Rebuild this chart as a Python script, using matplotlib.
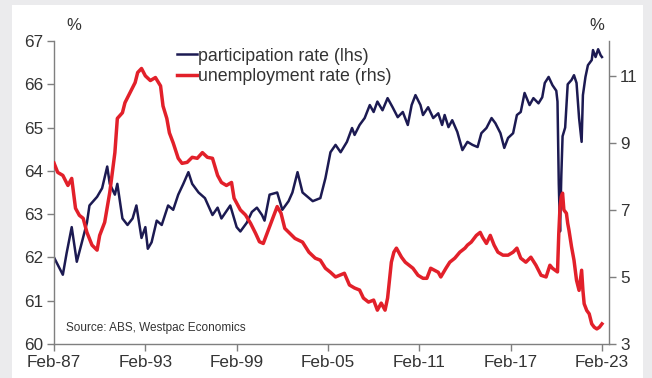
import matplotlib
matplotlib.use("Agg")
import matplotlib.pyplot as plt
import matplotlib.dates as mdates
from matplotlib.patches import Rectangle
import pandas as pd

plt.rcParams["font.family"] = ["Liberation Sans", "DejaVu Sans"]

# participation rate, % (lhs)
part_dates = ["1987-02", "1987-09", "1987-12", "1988-04", "1988-08", "1988-12", "1989-04", "1989-06",
              "1989-12", "1990-04", "1990-08", "1990-10", "1991-02", "1991-04", "1991-08", "1991-12",
              "1992-04", "1992-07", "1992-11", "1993-02", "1993-04", "1993-07", "1993-11", "1994-03",
              "1994-08", "1994-12", "1995-04", "1995-08", "1995-12", "1996-03", "1996-08", "1997-01",
              "1997-07", "1997-11", "1998-02", "1998-09", "1999-02", "1999-05", "1999-10", "2000-02",
              "2000-06", "2000-10", "2000-12", "2001-04", "2001-10", "2002-02", "2002-07", "2002-10",
              "2003-02", "2003-06", "2003-10", "2004-02", "2004-08", "2004-12", "2005-04", "2005-08",
              "2005-12", "2006-05", "2006-09", "2006-11", "2007-03", "2007-07", "2007-11", "2008-02",
              "2008-05", "2008-09", "2009-01", "2009-05", "2009-09", "2010-01", "2010-05", "2010-08",
              "2010-11", "2011-03", "2011-05", "2011-09", "2012-01", "2012-05", "2012-08", "2012-10",
              "2013-01", "2013-04", "2013-08", "2013-12", "2014-04", "2014-08", "2014-12", "2015-03",
              "2015-07", "2015-11", "2016-02", "2016-06", "2016-09", "2016-12", "2017-04", "2017-07",
              "2017-10", "2018-01", "2018-05", "2018-08", "2018-12", "2019-03", "2019-05", "2019-08",
              "2019-11", "2020-02", "2020-03", "2020-04", "2020-05", "2020-06", "2020-07", "2020-09",
              "2020-11", "2021-02", "2021-04", "2021-06", "2021-08", "2021-10", "2021-11", "2022-01",
              "2022-03", "2022-06", "2022-07", "2022-09", "2022-11", "2023-01", "2023-02"]
part_rate = [62.0, 61.6, 62.1, 62.7, 61.9, 62.35, 62.8, 63.2,
             63.4, 63.6, 64.1, 63.7, 63.45, 63.7, 62.9, 62.75,
             62.9, 63.2, 62.45, 62.7, 62.2, 62.35, 62.85, 62.75,
             63.2, 63.1, 63.45, 63.7, 63.97, 63.7, 63.5, 63.37,
             62.98, 63.15, 62.9, 63.2, 62.7, 62.6, 62.8, 63.05,
             63.15, 62.98, 62.85, 63.45, 63.5, 63.1, 63.3, 63.5,
             63.97, 63.5, 63.4, 63.3, 63.37, 63.83, 64.43, 64.6,
             64.43, 64.67, 64.99, 64.83, 65.06, 65.22, 65.52, 65.36,
             65.6, 65.4, 65.68, 65.47, 65.24, 65.36, 65.06, 65.52,
             65.75, 65.52, 65.29, 65.47, 65.22, 65.33, 65.06, 65.29,
             65.01, 65.17, 64.9, 64.48, 64.67, 64.6, 64.55, 64.87,
             64.99, 65.22, 65.1, 64.87, 64.53, 64.76, 64.87, 65.29,
             65.36, 65.8, 65.52, 65.68, 65.56, 65.7, 66.03, 66.17,
             65.98, 65.85, 65.6, 63.7, 62.6, 63.9, 64.8, 65.0,
             66.0, 66.1, 66.21, 66.03, 65.22, 64.67, 65.75, 66.17,
             66.44, 66.56, 66.79, 66.63, 66.81, 66.67, 66.63]

# unemployment rate, % (rhs)
unemp_dates = ["1987-02", "1987-05", "1987-09", "1988-01", "1988-04", "1988-07", "1988-10", "1989-01",
               "1989-04", "1989-08", "1989-12", "1990-02", "1990-06", "1990-10", "1991-02", "1991-04",
               "1991-08", "1991-10", "1992-02", "1992-06", "1992-08", "1992-11", "1993-02", "1993-06",
               "1993-10", "1994-02", "1994-04", "1994-07", "1994-09", "1994-12", "1995-04", "1995-07",
               "1995-11", "1996-03", "1996-07", "1996-11", "1997-03", "1997-07", "1997-11", "1998-02",
               "1998-06", "1998-10", "1998-12", "1999-05", "1999-09", "2000-01", "2000-05", "2000-08",
               "2000-11", "2001-03", "2001-07", "2001-10", "2002-01", "2002-04", "2002-08", "2002-12",
               "2003-06", "2003-11", "2004-04", "2004-08", "2004-12", "2005-04", "2005-08", "2006-03",
               "2006-07", "2006-11", "2007-03", "2007-06", "2007-10", "2008-02", "2008-05", "2008-08",
               "2008-11", "2009-01", "2009-04", "2009-06", "2009-08", "2009-12", "2010-03", "2010-06",
               "2010-09", "2011-01", "2011-05", "2011-08", "2011-11", "2012-05", "2012-07", "2012-11",
               "2013-02", "2013-06", "2013-10", "2014-02", "2014-04", "2014-07", "2014-11", "2015-02",
               "2015-04", "2015-07", "2015-10", "2016-01", "2016-04", "2016-08", "2016-12", "2017-04",
               "2017-07", "2017-10", "2018-02", "2018-06", "2018-10", "2019-02", "2019-06", "2019-09",
               "2019-11", "2020-03", "2020-04", "2020-05", "2020-06", "2020-07", "2020-08", "2020-10",
               "2020-11", "2020-12", "2021-02", "2021-04", "2021-06", "2021-08", "2021-10", "2021-11",
               "2021-12", "2022-02", "2022-04", "2022-06", "2022-08", "2022-10", "2022-12", "2023-01",
               "2023-02"]
unemp_rate = [8.4, 8.12, 8.03, 7.73, 7.94, 7.05, 6.84, 6.75,
              6.33, 5.95, 5.8, 6.24, 6.63, 7.52, 8.71, 9.73,
              9.9, 10.2, 10.5, 10.8, 11.1, 11.22, 11.0, 10.86,
              10.95, 10.7, 10.1, 9.73, 9.3, 9.0, 8.54, 8.39,
              8.42, 8.57, 8.54, 8.71, 8.57, 8.54, 8.03, 7.82,
              7.73, 7.82, 7.35, 7.0, 6.85, 6.6, 6.3, 6.05,
              6.0, 6.4, 6.8, 7.1, 6.9, 6.45, 6.3, 6.15,
              6.04, 5.74, 5.56, 5.5, 5.26, 5.14, 5.0, 5.11,
              4.76, 4.67, 4.61, 4.37, 4.25, 4.31, 4.01, 4.22,
              4.01, 4.37, 5.44, 5.74, 5.86, 5.59, 5.44, 5.35,
              5.26, 5.05, 4.96, 4.96, 5.26, 5.14, 5.0, 5.26,
              5.44, 5.56, 5.74, 5.86, 5.95, 6.04, 6.24, 6.33,
              6.18, 6.0, 6.24, 5.95, 5.74, 5.65, 5.65, 5.74,
              5.86, 5.56, 5.44, 5.59, 5.35, 5.05, 5.0, 5.35,
              5.26, 5.15, 6.3, 7.1, 7.4, 7.5, 7.0, 6.9,
              6.6, 6.4, 5.9, 5.5, 4.9, 4.6, 5.2, 4.6,
              4.2, 4.0, 3.9, 3.6, 3.5, 3.45, 3.5, 3.55,
              3.6]

tick_years = ["1987-02", "1993-02", "1999-02", "2005-02", "2011-02", "2017-02", "2023-02"]

navy = "#1c1a52"
red = "#e2202a"
txt = "#333333"
grey = "#7f7f7f"

fig = plt.figure(figsize=(6.52, 3.78), dpi=100, facecolor="#ebebed")
fig.patches.append(Rectangle((12 / 652, 0), 631 / 652, 373 / 378, transform=fig.transFigure,
                             facecolor="white", edgecolor="none", zorder=-5))
ax = fig.add_axes([54 / 652, 34 / 378, 555 / 652, 303 / 378])
ax.set_facecolor("none")
ax2 = ax.twinx()
ax2.set_facecolor("none")

l1, = ax.plot(pd.to_datetime(part_dates), part_rate, color=navy, lw=1.8, label="participation rate (lhs)")
l2, = ax2.plot(pd.to_datetime(unemp_dates), unemp_rate, color=red, lw=2.5, label="unemployment rate (rhs)")

ax.set_ylim(60, 67)
ax2.set_ylim(3, 12.04)
ax.set_yticks(range(60, 68))
ax2.set_yticks([3, 5, 7, 9, 11])
ax.set_xlim(pd.Timestamp("1987-02-01"), pd.Timestamp("2023-07-20"))
ax.set_xticks(pd.to_datetime(tick_years))
ax.xaxis.set_major_formatter(mdates.DateFormatter("%b-%y"))

for a in (ax, ax2):
    a.spines["top"].set_visible(False)
    for s in ("left", "right", "bottom"):
        a.spines[s].set_color(grey)
        a.spines[s].set_linewidth(1.0)
    a.tick_params(colors=grey, labelcolor=txt, labelsize=12.3, length=5, width=1.0, pad=3)
ax.spines["right"].set_visible(False)
ax2.spines["left"].set_visible(False)
ax2.spines["bottom"].set_visible(False)

fig.text(74 / 652, 1 - 26 / 378, "%", ha="center", va="center", fontsize=12, color=txt)
fig.text(597 / 652, 1 - 26 / 378, "%", ha="center", va="center", fontsize=12, color=txt)
fig.text(66 / 652, 1 - 328 / 378, "Source: ABS, Westpac Economics",
         ha="left", va="center", fontsize=8.5, color=txt)

leg = ax2.legend(handles=[l1, l2], loc="upper left", bbox_to_anchor=((177 - 54) / 555, 0.978),
                 frameon=False, fontsize=12.8, handlelength=1.15, handletextpad=0.05,
                 borderpad=0, borderaxespad=0, labelspacing=0.18, labelcolor=txt)

fig.savefig("out.png", dpi=100, facecolor=fig.get_facecolor())
